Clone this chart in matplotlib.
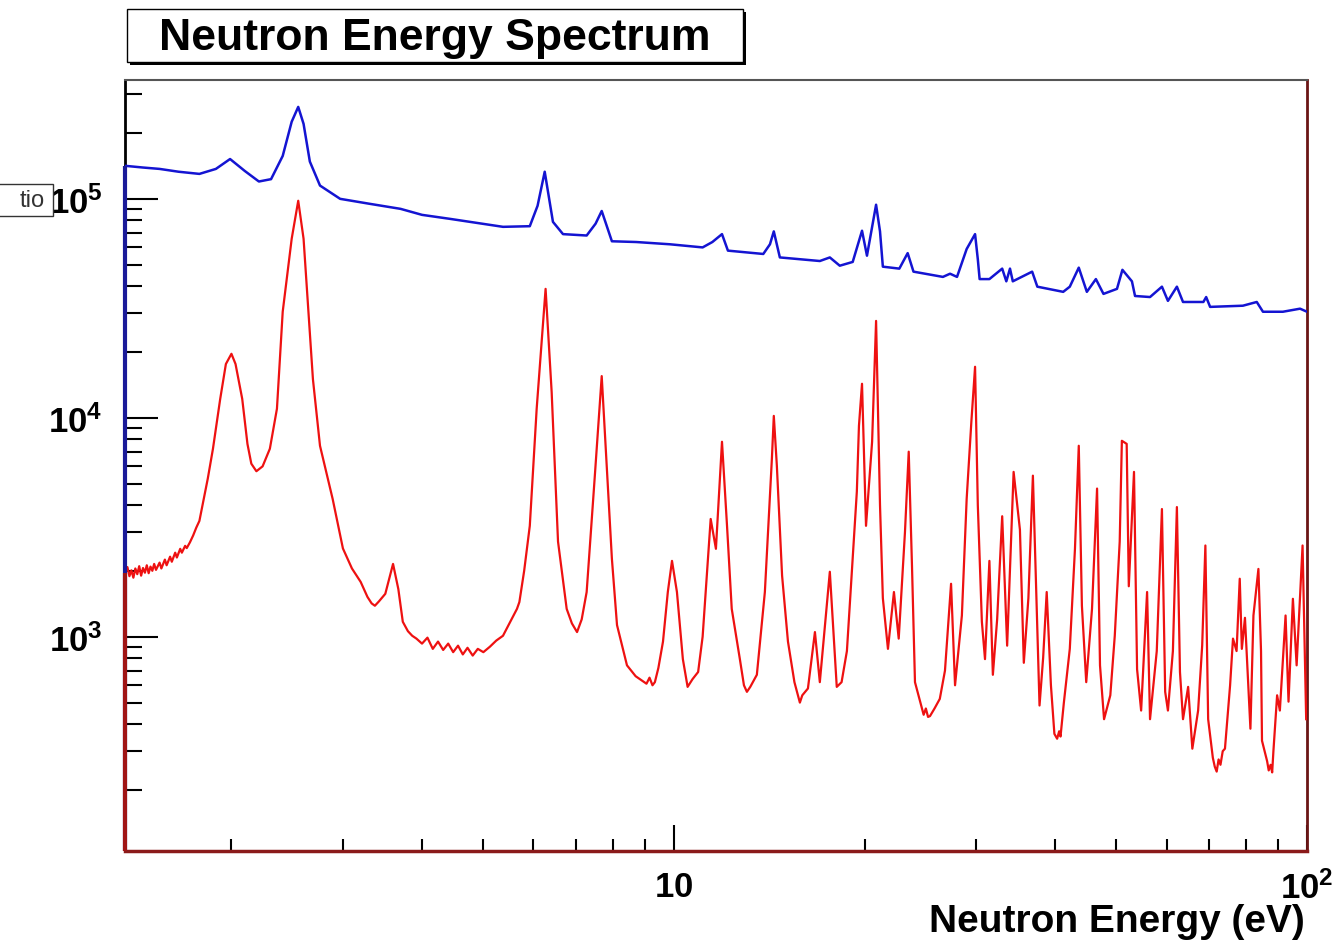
import matplotlib
matplotlib.use("Agg")
import matplotlib.pyplot as plt
from matplotlib.patches import Rectangle
from matplotlib.ticker import NullFormatter

# counts per energy bin, red = with sample, blue = open beam
red_energy = [
    1.36, 1.37, 1.38, 1.39, 1.40, 1.41, 1.42, 1.43, 1.44, 1.45, 1.46, 1.47,
    1.48, 1.49, 1.50, 1.51, 1.52, 1.54, 1.55, 1.57, 1.58, 1.60, 1.61, 1.63,
    1.64, 1.66, 1.67, 1.69, 1.70, 1.72, 1.74, 1.76, 1.78, 1.835, 1.87, 1.92,
    1.96, 2.00, 2.03, 2.08, 2.12, 2.15, 2.19, 2.24, 2.30, 2.36, 2.41, 2.49,
    2.55, 2.60, 2.69, 2.76, 2.89, 3.00, 3.10, 3.20, 3.28, 3.33, 3.37, 3.42,
    3.50, 3.60, 3.67, 3.73, 3.80, 3.86, 3.92, 4.00, 4.08, 4.16, 4.24, 4.32,
    4.40, 4.48, 4.56, 4.64, 4.72, 4.81, 4.90, 5.00, 5.12, 5.24, 5.37, 5.65,
    5.70, 5.80, 5.92, 6.07, 6.27, 6.41, 6.56, 6.77, 6.90, 7.03, 7.15, 7.28,
    7.50, 7.69, 7.82, 7.98, 8.13, 8.43, 8.70, 9.05, 9.15, 9.25, 9.33, 9.45,
    9.61, 9.78, 9.93, 10.11, 10.33, 10.51, 10.70, 10.92, 11.1, 11.27, 11.43,
    11.65, 11.91, 12.13, 12.34, 12.71, 12.9, 13.04, 13.2, 13.52, 13.92, 14.28,
    14.38, 14.54, 14.82, 15.14, 15.5, 15.81, 15.95, 16.28, 16.70, 17.0, 17.63,
    18.08, 18.4, 18.76, 19.45, 19.6, 19.82, 20.11, 20.56, 20.86, 21.16, 21.38,
    21.78, 22.26, 22.65, 23.17, 23.49, 23.77, 24.03, 24.6, 24.8, 25.0, 25.2,
    25.38, 25.8, 26.3, 26.8, 27.4, 27.8, 28.5, 29.0, 29.5, 29.9, 30.2, 30.65,
    31.0, 31.5, 31.9, 32.4, 33.0, 33.6, 34.4, 35.2, 35.7, 36.3, 36.9, 37.8,
    38.3, 38.8, 39.4, 39.9, 40.3, 40.6, 40.8, 41.3, 42.2, 43.0, 43.6, 44.1,
    44.8, 45.75, 46.6, 47.1, 47.8, 48.9, 49.7, 50.6, 51.0, 51.9, 52.3, 53.3,
    53.9, 54.7, 55.9, 56.5, 57.9, 59.0, 59.7, 60.3, 61.4, 62.3, 63.0, 63.7,
    64.9, 65.9, 67.3, 68.3, 69.1, 69.8, 71.0, 71.5, 72.0, 72.5, 73.0, 73.6,
    74.2, 75.6, 76.4, 77.4, 78.3, 78.9, 79.8, 81.4, 82.3, 83.8, 84.6, 84.9,
    86.5, 87.0, 87.6, 88.1, 88.5, 89.7, 90.6, 92.5, 93.5, 95.0, 96.3, 98.4,
    99.7,
]
red_counts = [
    1950, 2080, 1890, 2010, 1860, 2050, 1930, 2100, 1900, 2060, 1960, 2120,
    1950, 2090, 2000, 2150, 2020, 2180, 2050, 2250, 2120, 2320, 2200, 2420,
    2300, 2520, 2420, 2600, 2540, 2700, 2900, 3150, 3380, 5270, 7220, 12200,
    17600, 19600, 17600, 12200, 7590, 6170, 5700, 6000, 7220, 11000, 30500, 65700,
    98000, 65700, 15000, 7450, 4260, 2530, 2050, 1780, 1520, 1420, 1385, 1450,
    1570, 2150, 1650, 1170, 1060, 1010, 980, 930, 990, 880, 950, 870,
    930, 850, 910, 830, 890, 820, 880, 850, 900, 960, 1010, 1340,
    1440, 2000, 3210, 11000, 38800, 13100, 2720, 1340, 1150, 1050, 1200, 1600,
    5440, 15500, 6500, 2270, 1130, 740, 660, 610, 650, 600, 620, 720,
    950, 1600, 2220, 1600, 790, 590, 640, 690, 1000, 1900, 3450,
    2520, 7770, 3210, 1340, 790, 600, 560, 590, 670, 1600, 6500,
    10200, 6050, 1900, 950, 620, 500, 540, 580, 1050, 620, 1980,
    590, 620, 860, 4600, 9190, 14300, 3210, 7770, 27700, 3990, 1500,
    880, 1600, 980, 3000, 7000, 2110, 620, 480, 440, 470, 430,
    434, 470, 520, 700, 1745, 600, 1250, 4260, 9590, 17100, 3990, 1170,
    790, 2220, 670, 1200, 3550, 910, 5660, 3080, 760, 1500, 5440, 485,
    800, 1600, 600, 360, 342, 370, 350, 500, 880, 2520, 7450, 1385,
    620, 1340, 4750, 740, 420, 540, 1010, 2720, 7850, 7600, 1700, 5660,
    710, 460, 1600, 420, 860, 3830, 560, 460, 860, 3910, 690, 420,
    590, 308, 460, 910, 2610, 420, 280, 255, 242, 275, 260, 300,
    308, 600, 980, 860, 1840, 880, 1220, 380, 1250, 2040, 860, 335,
    270, 245, 260, 240, 300, 540, 460, 1250, 505, 1490, 740, 2610,
    420,
]

blue_energy = [
    1.36, 1.45, 1.54, 1.65, 1.78, 1.89, 1.99, 2.10, 2.21, 2.31, 2.41, 2.49,
    2.55, 2.60, 2.66, 2.76, 2.97, 3.30, 3.70, 4.0, 4.43, 5.37, 5.92, 6.09,
    6.25, 6.44, 6.68, 7.28, 7.52, 7.69, 7.98, 8.72, 9.86, 11.1, 11.5, 11.91,
    12.17, 13.84, 14.18, 14.38, 14.7, 17.0, 17.63, 18.28, 19.16, 19.82, 20.18,
    20.86, 21.16, 21.38, 22.7, 23.4, 23.9, 26.6, 27.3, 28.0, 29.0, 29.9,
    30.2, 30.4, 31.5, 33.0, 33.5, 33.95, 34.3, 36.8, 37.5, 41.2, 42.2, 43.6,
    44.9, 46.4, 47.7, 50.1, 51.1, 52.9, 53.5, 56.5, 59.0, 60.3, 62.3, 63.7,
    68.6, 69.3, 70.3, 79.2, 83.3, 85.2, 91.6, 97.5, 100,
]
blue_counts = [
    141500, 139000, 137000, 133000, 130000, 137000, 152000, 134000, 120000,
    123000, 157000, 225000, 263000, 220000, 148000, 115000, 100000, 95000,
    90000, 84500, 81000, 74500, 75000, 93000, 133000, 78500, 69000, 68000,
    77000, 88000, 64000, 63500, 62000, 60000, 63500, 69000, 58000, 56000,
    62000, 71000, 54000, 52000, 54000, 49500, 51500, 71500, 55000, 94000,
    71000, 49000, 48000, 56500, 46500, 44000, 45500, 44000, 59000, 69000,
    53000, 43000, 43000, 48000, 42000, 48000, 42000, 46500, 39700, 37600,
    39700, 48500, 37600, 43000, 36800, 38800, 47400, 42000, 36000, 35600,
    39700, 34200, 39700, 33800, 33800, 35600, 32100, 32500, 33800, 30500,
    30500, 31500, 30500,
]

x_range = (1.358, 100)
y_range = (105, 3.49e5)

plt.rcParams['font.family'] = 'Liberation Sans'
plt.rcParams['mathtext.fontset'] = 'custom'
plt.rcParams['mathtext.rm'] = 'Liberation Sans'
plt.rcParams['mathtext.bf'] = 'Liberation Sans:bold'

W, H = 1338, 945
fig = plt.figure(figsize=(W / 100, H / 100), dpi=100)
ax = fig.add_axes([125 / W, 93 / H, 1182 / W, 771 / H])

ax.plot(blue_energy, blue_counts, color='#1414d2', lw=1.8, zorder=3)
ax.plot(red_energy, red_counts, color='#ee1111', lw=1.6, zorder=3)
ax.set_xscale('log')
ax.set_yscale('log')
ax.set_xlim(*x_range)
ax.set_ylim(*y_range)

# histogram edges drawn up from the frame at the first bin
ax.vlines(blue_energy[0], y_range[0], blue_counts[0], colors='#1a1a99', lw=3, zorder=4, clip_on=False)
ax.vlines(red_energy[0], y_range[0], red_counts[0], colors='#a01515', lw=3, zorder=5, clip_on=False)

ax.spines['left'].set_color('black')
ax.spines['left'].set_linewidth(2)
ax.spines['bottom'].set_color('#8b1a1a')
ax.spines['bottom'].set_linewidth(2.5)
ax.spines['right'].set_color('#6a1515')
ax.spines['right'].set_linewidth(2)
ax.spines['top'].set_color('#555555')
ax.spines['top'].set_linewidth(1.5)

ax.set_xticks([10, 100], labels=[r'$\mathbf{10}$', r'$\mathbf{10^{2}}$'])
ax.set_xticks([2, 3, 4, 5, 6, 7, 8, 9, 20, 30, 40, 50, 60, 70, 80, 90], minor=True)
ax.xaxis.set_minor_formatter(NullFormatter())
ax.set_yticks([1e3, 1e4, 1e5], labels=[r'$\mathbf{10^{3}}$', r'$\mathbf{10^{4}}$', r'$\mathbf{10^{5}}$'])
yminor = [m * 10 ** k for k in (2, 3, 4, 5) for m in range(2, 10)]
ax.set_yticks([v for v in yminor if y_range[0] < v < y_range[1]], minor=True)
ax.yaxis.set_minor_formatter(NullFormatter())

ax.tick_params(axis='x', which='major', direction='in', length=19, width=1.5, pad=14, labelsize=25)
ax.tick_params(axis='x', which='minor', direction='in', length=9, width=1.5)
ax.tick_params(axis='y', which='major', direction='in', length=24, width=1.5, pad=16, labelsize=25)
ax.tick_params(axis='y', which='minor', direction='in', length=12, width=1.5)

fig.text(1305 / W, 1 - 922 / H, 'Neutron Energy (eV)', ha='right', va='center',
         fontsize=28, fontweight='bold')

# title box with drop shadow
bx, by, bw, bh = 127, 10, 616, 53
fig.patches.append(Rectangle(((bx + 3) / W, 1 - (by + bh + 3) / H), bw / W, bh / H,
                             transform=fig.transFigure, facecolor='black', edgecolor='none'))
fig.patches.append(Rectangle((bx / W, 1 - (by + bh) / H), bw / W, bh / H,
                             transform=fig.transFigure, facecolor='white', edgecolor='black', lw=1))
fig.text((bx + bw / 2) / W, 1 - (by + bh / 2 + 2) / H, 'Neutron Energy Spectrum',
         ha='center', va='center', fontsize=32, fontweight='bold')

# leftover stats label at the left edge
fig.patches.append(Rectangle((-5 / W, 1 - 217 / H), 58 / W, 32 / H,
                             transform=fig.transFigure, facecolor='white', edgecolor='#333333', lw=1))
fig.text(45 / W, 1 - 201 / H, 'tio', ha='right', va='center', fontsize=17, color='#333333')

fig.savefig('out.png', dpi=100)
